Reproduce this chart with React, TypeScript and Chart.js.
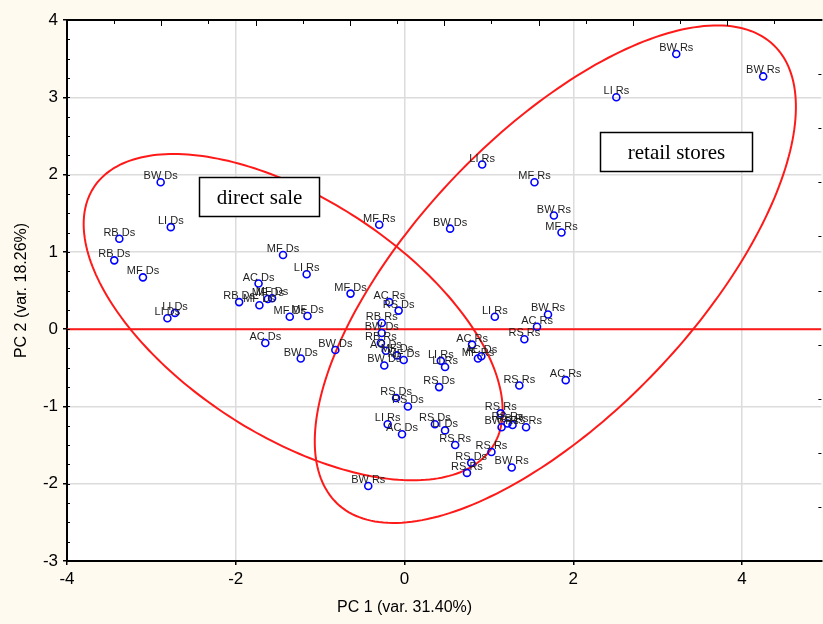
import { useEffect, useRef } from 'react';
import { Chart, registerables } from 'chart.js';

Chart.register(...registerables);

// ---------- data ----------
const pointLabels = [
  'BW Rs', 'BW Rs', 'LI Rs', 'LI Rs', 'MF Rs', 'BW Rs', 'MF Rs', 'BW Ds', 'MF Rs',
  'BW Ds', 'LI Ds', 'RB Ds', 'RB Ds', 'MF Ds', 'LI Ds', 'LI Ds',
  'MF Ds', 'LI Rs', 'AC Ds', 'RB Ds', 'MF Ds', 'MF Ds', 'MF Ds', 'MF Ds', 'MF Ds', 'MF Ds',
  'AC Ds', 'BW Ds', 'BW Ds',
  'AC Rs', 'RS Ds', 'RB Rs', 'BW Ds', 'RB Rs', 'AC Ds', 'MF Ds', 'MF Ds', 'BW Ds',
  'AC Rs', 'AC Ds', 'MF Rs', 'LI Rs', 'LI Rs', 'LI Rs', 'BW Rs', 'AC Rs', 'RS Rs',
  'RS Ds', 'RS Rs', 'AC Rs', 'RS Ds', 'RS Ds', 'LI Rs', 'AC Ds', 'RS Ds', 'LI Ds', 'RS Rs',
  'RS Rs', 'BW Rs', 'RS Rs', 'RB Rs', 'RS Rs', 'RS Rs', 'BW Rs', 'RS Ds', 'RS Rs', 'BW Rs',
];
const pc1 = [
  3.22, 4.25, 2.51, 0.92, 1.54, 1.77, 1.86, 0.54, -0.30,
  -2.89, -2.77, -3.38, -3.44, -3.10, -2.72, -2.81,
  -1.44, -1.16, -1.73, -1.96, -1.72, -1.62, -1.57, -0.64, -1.36, -1.15,
  -1.65, -1.23, -0.82,
  -0.18, -0.07, -0.27, -0.27, -0.28, -0.22, -0.09, -0.01, -0.24,
  0.80, 0.91, 0.87, 0.43, 0.48, 1.07, 1.70, 1.57, 1.42,
  0.41, 1.36, 1.91, -0.10, 0.04, -0.20, -0.03, 0.36, 0.48, 0.60,
  1.14, 1.15, 1.22, 1.28, 1.44, 1.03, 1.27, 0.79, 0.74, -0.43,
];
const pc2 = [
  3.56, 3.27, 3.00, 2.13, 1.90, 1.47, 1.25, 1.30, 1.35,
  1.90, 1.32, 1.17, 0.89, 0.67, 0.21, 0.14,
  0.96, 0.71, 0.59, 0.35, 0.31, 0.39, 0.40, 0.46, 0.16, 0.17,
  -0.18, -0.38, -0.27,
  0.35, 0.24, 0.08, -0.05, -0.18, -0.28, -0.34, -0.40, -0.47,
  -0.20, -0.35, -0.38, -0.41, -0.49, 0.16, 0.19, 0.03, -0.13,
  -0.75, -0.73, -0.66, -0.89, -1.00, -1.23, -1.36, -1.23, -1.31, -1.50,
  -1.09, -1.27, -1.22, -1.24, -1.27, -1.59, -1.79, -1.73, -1.86, -2.03,
];

const xTicks = [-4, -2, 0, 2, 4];
const yTicks = [-3, -2, -1, 0, 1, 2, 3, 4];
const xMin = -4;
const xMax = 4.94;
const yMin = -3;
const yMax = 4;

const xTitle = 'PC 1 (var. 31.40%)';
const yTitle = 'PC 2 (var. 18.26%)';

// group ellipses: centre and two conjugate semi-axis vectors, in PC units
const directEllipse = [-1.32, 0.155, 2.363, -1.678, 0.761, 1.281];
const retailEllipse = [1.787, 0.711, 2.586, 2.966, -1.2, 1.25];

// annotation boxes: text, x1, y1, x2, y2 (PC units)
const boxTexts = ['direct sale', 'retail stores'];
const boxX1 = [-2.438, 2.32];
const boxY1 = [1.967, 2.549];
const boxX2 = [-1.018, 4.118];
const boxY2 = [1.462, 2.044];

// ---------- style ----------
const BG = '#FEFAF0';
const RED = '#FF1A1A';
const BLUE = '#0000FF';
const SANS = '"Liberation Sans", Arial, sans-serif';
const SERIF = '"Liberation Serif", "Times New Roman", serif';

const decor = {
  id: 'decor',
  beforeDraw(chart: any) {
    const { ctx, chartArea, width, height } = chart;
    ctx.save();
    ctx.fillStyle = BG;
    ctx.fillRect(0, 0, width, height);
    ctx.fillStyle = '#FFFFFF';
    ctx.fillRect(chartArea.left, chartArea.top, chartArea.right - chartArea.left, chartArea.bottom - chartArea.top);
    ctx.restore();
  },
  beforeDatasetsDraw(chart: any) {
    const { ctx, chartArea } = chart;
    const { left, top, right, bottom } = chartArea;
    const xs = chart.scales.x;
    const ys = chart.scales.y;
    ctx.save();
    ctx.beginPath();
    ctx.rect(left, top, right - left, bottom - top);
    ctx.clip();
    // zero line
    ctx.strokeStyle = RED;
    ctx.lineWidth = 2;
    ctx.beginPath();
    const y0 = ys.getPixelForValue(0);
    ctx.moveTo(left, y0);
    ctx.lineTo(right, y0);
    ctx.stroke();
    // ellipses
    for (const e of [directEllipse, retailEllipse]) {
      const [cx, cy, ux, uy, vx, vy] = e;
      ctx.beginPath();
      for (let i = 0; i <= 240; i++) {
        const t = (i / 240) * Math.PI * 2;
        const px = xs.getPixelForValue(cx + ux * Math.cos(t) + vx * Math.sin(t));
        const py = ys.getPixelForValue(cy + uy * Math.cos(t) + vy * Math.sin(t));
        if (i === 0) ctx.moveTo(px, py);
        else ctx.lineTo(px, py);
      }
      ctx.closePath();
      ctx.lineWidth = 2;
      ctx.strokeStyle = RED;
      ctx.stroke();
    }
    ctx.restore();

    // frame: top border and minor ticks
    ctx.save();
    ctx.strokeStyle = '#000';
    ctx.lineWidth = 2;
    ctx.beginPath();
    ctx.moveTo(left - 1, top);
    ctx.lineTo(right + 1, top);
    ctx.stroke();
    ctx.lineWidth = 1;
    ctx.beginPath();
    const nTop = 16;
    for (let i = 1; i < nTop; i++) {
      const px = Math.round(left + (i * (right - left)) / nTop) + 0.5;
      ctx.moveTo(px, top);
      ctx.lineTo(px, top + (i % 2 === 0 ? 6 : 4));
    }
    for (let v = yMin; v <= yMax; v += 0.25) {
      const py = Math.round(ys.getPixelForValue(v)) + 0.5;
      ctx.moveTo(left, py);
      ctx.lineTo(left + 3, py);
    }
    const nRight = 10;
    for (let i = 1; i < nRight; i++) {
      const py = Math.round(top + (i * (bottom - top)) / nRight) + 0.5;
      ctx.moveTo(right, py);
      ctx.lineTo(right - 3, py);
    }
    ctx.stroke();
    ctx.restore();
  },
  afterDatasetsDraw(chart: any) {
    const { ctx, chartArea } = chart;
    const xs = chart.scales.x;
    const ys = chart.scales.y;
    ctx.save();
    // point labels
    ctx.font = `11px ${SANS}`;
    ctx.fillStyle = '#1E1E1E';
    ctx.textAlign = 'center';
    ctx.textBaseline = 'alphabetic';
    for (let i = 0; i < pointLabels.length; i++) {
      const px = xs.getPixelForValue(pc1[i]);
      const py = ys.getPixelForValue(pc2[i]);
      ctx.fillText(pointLabels[i], px, py - 3);
    }
    // boxes
    for (let i = 0; i < boxTexts.length; i++) {
      const x1 = Math.round(xs.getPixelForValue(boxX1[i])) + 0.5;
      const x2 = Math.round(xs.getPixelForValue(boxX2[i])) + 0.5;
      const y1 = Math.round(ys.getPixelForValue(boxY1[i])) + 0.5;
      const y2 = Math.round(ys.getPixelForValue(boxY2[i])) + 0.5;
      ctx.fillStyle = '#FFFFFF';
      ctx.fillRect(x1, y1, x2 - x1, y2 - y1);
      ctx.strokeStyle = '#000';
      ctx.lineWidth = 1.5;
      ctx.strokeRect(x1, y1, x2 - x1, y2 - y1);
      ctx.fillStyle = '#000';
      ctx.font = `21px ${SERIF}`;
      ctx.textAlign = 'center';
      ctx.textBaseline = 'middle';
      ctx.fillText(boxTexts[i], (x1 + x2) / 2, (y1 + y2) / 2 + 1);
    }
    // axis titles
    ctx.fillStyle = '#000';
    ctx.font = `16px ${SANS}`;
    ctx.textAlign = 'center';
    ctx.textBaseline = 'middle';
    ctx.fillText(xTitle, xs.getPixelForValue(0), 608);
    ctx.translate(22, (chartArea.top + chartArea.bottom) / 2);
    ctx.rotate(-Math.PI / 2);
    ctx.fillText(yTitle, 0, 0);
    ctx.restore();
  },
};

export default function App() {
  const ref = useRef<HTMLCanvasElement | null>(null);
  useEffect(() => {
    if (!ref.current) return;
    const chart = new Chart(ref.current, {
      type: 'scatter',
      data: {
        datasets: [
          {
            data: pc1.map((x, i) => ({ x, y: pc2[i] })),
            pointRadius: 3.5,
            pointBorderWidth: 1.6,
            pointBorderColor: BLUE,
            pointBackgroundColor: 'rgba(255,255,255,0)',
            borderColor: BLUE,
            showLine: false,
          },
        ],
      },
      options: {
        animation: false,
        responsive: false,
        devicePixelRatio: 1,
        layout: { padding: { top: 20, right: 1, left: 0, bottom: 0 } },
        plugins: { legend: { display: false }, tooltip: { enabled: false } },
        scales: {
          x: {
            type: 'linear',
            min: xMin,
            max: xMax,
            afterBuildTicks: (s: any) => {
              s.ticks = xTicks.map((v) => ({ value: v }));
            },
            afterFit: (s: any) => {
              s.height = 63;
              s.paddingLeft = 0;
              s.paddingRight = 0;
            },
            grid: {
              color: (c: any) => (c.tick && c.tick.value === xMin ? 'rgba(0,0,0,0)' : '#DCDCDC'),
              lineWidth: 1.5,
              drawTicks: true,
              tickLength: 4,
              tickColor: '#000',
            },
            border: { display: true, color: '#000', width: 2 },
            ticks: {
              color: '#000',
              font: { family: SANS, size: 17 },
              padding: 4,
              maxRotation: 0,
              autoSkip: false,
            },
          },
          y: {
            type: 'linear',
            min: yMin,
            max: yMax,
            afterBuildTicks: (s: any) => {
              s.ticks = yTicks.map((v) => ({ value: v }));
            },
            afterFit: (s: any) => {
              s.width = 67;
              s.paddingTop = 0;
              s.paddingBottom = 0;
            },
            grid: {
              color: (c: any) => (c.tick && (c.tick.value === yMin || c.tick.value === yMax) ? 'rgba(0,0,0,0)' : '#DCDCDC'),
              lineWidth: 1.5,
              drawTicks: true,
              tickLength: 4,
              tickColor: '#000',
            },
            border: { display: true, color: '#000', width: 2 },
            ticks: {
              color: '#000',
              font: { family: SANS, size: 17 },
              padding: 5,
              autoSkip: false,
            },
          },
        },
      },
      plugins: [decor],
    } as any);
    return () => chart.destroy();
  }, []);

  return (
    <div style={{ position: 'absolute', left: 0, top: 0, width: 823, height: 624, overflow: 'hidden', background: BG }}>
      <canvas ref={ref} width={827} height={624} style={{ display: 'block' }} />
    </div>
  );
}
